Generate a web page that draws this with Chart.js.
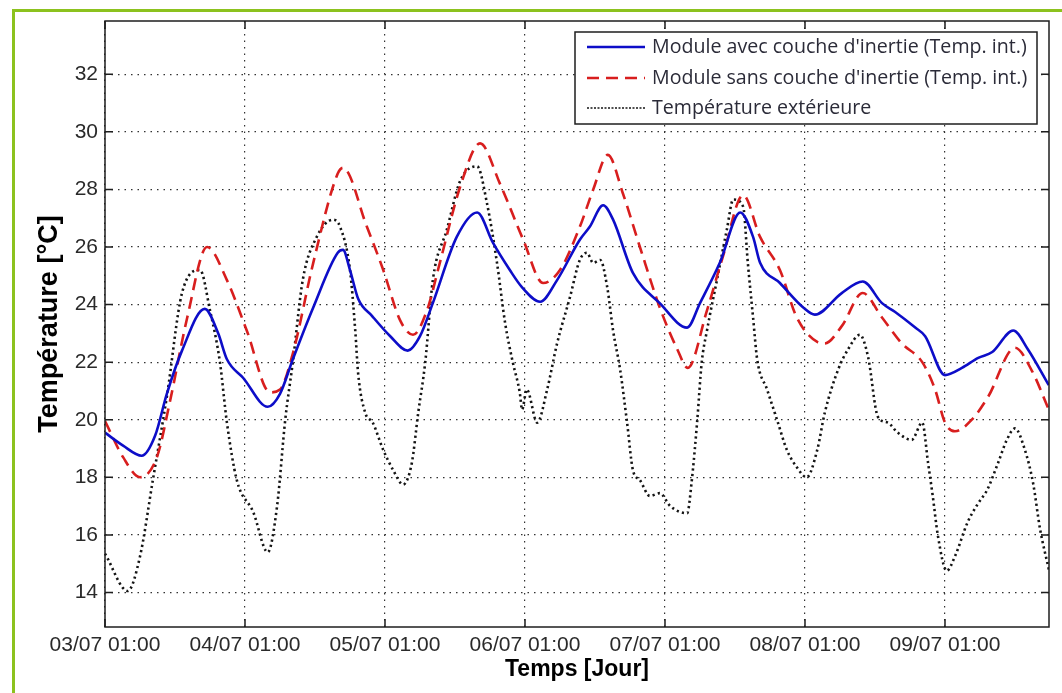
<!DOCTYPE html>
<html>
<head>
<meta charset="utf-8">
<script src="https://cdn.jsdelivr.net/npm/chart.js@4.4.0/dist/chart.umd.min.js"></script>
<style>
  html, body { margin: 0; padding: 0; background: #fff; }
  #wrap { width: 1062px; height: 693px; }
</style>
</head>
<body>
<div id="wrap"><canvas id="myChart" width="1062" height="693"></canvas></div>
<script>
// time axis in hours since 03/07 01:00
var tickLabels = ['03/07 01:00', '04/07 01:00', '05/07 01:00', '06/07 01:00', '07/07 01:00', '08/07 01:00', '09/07 01:00'];
var yTicks = [14, 16, 18, 20, 22, 24, 26, 28, 30, 32];

var hoursAvec = [0, 3.1, 6.3, 8.6, 10.6, 13.2, 17.1, 19.4, 20.9, 23.7, 27.9, 30.0, 32.2, 35.7, 39.9, 40.8, 42.0, 43.4, 45.8, 48.9,
  51.9, 54.0, 56.2, 60.3, 63.8, 66.5, 69.4, 71.5, 74.6, 77.5, 81.4, 83.1, 85.4, 87.1, 90.5, 95.1, 99.8, 102.0, 105.4, 108.9,
  111.1, 112.3, 115.7, 119.7, 121.7, 126.3, 129.9, 133.2, 135.4, 138.9, 140.6, 144.0, 146.9, 149.7, 152.1, 155.7, 158.2, 161.8];
var tempAvec = [19.55, 19.1, 18.75, 19.45, 20.9, 22.4, 23.85, 23.0, 22.1, 21.45, 20.45, 20.9, 22.1, 23.9, 25.8, 25.9, 25.2, 24.2, 23.6, 22.9,
  22.4, 22.9, 24.05, 26.35, 27.2, 26.15, 25.2, 24.6, 24.1, 24.85, 26.25, 26.7, 27.45, 26.95, 25.1, 24.05, 23.2, 24.05, 25.45, 27.2,
  26.35, 25.45, 24.75, 23.9, 23.65, 24.4, 24.8, 24.05, 23.75, 23.2, 22.9, 21.55, 21.8, 22.15, 22.35, 23.1, 22.45, 21.2];

var hoursSans = [0, 3.1, 6.0, 8.9, 11.1, 14.1, 17.5, 20.9, 24.3, 28.3, 30.0, 32.2, 35.7, 39.9, 40.8, 44.9, 47.7, 50.6, 52.8, 55.2,
  57.4, 60.9, 64.3, 67.7, 71.7, 75.1, 78.0, 81.4, 83.7, 86.2, 88.8, 91.7, 95.1, 98.1, 99.9, 103.2, 105.9, 109.4, 112.3, 115.7,
  118.6, 122.1, 123.4, 126.3, 129.9, 133.2, 136.6, 140.1, 142.3, 144.0, 145.7, 148.6, 151.4, 156.0, 158.9, 161.8];
var tempSans = [19.95, 18.7, 18.0, 18.7, 20.6, 23.55, 26.0, 24.85, 23.1, 20.95, 21.05, 22.3, 25.45, 28.55, 28.75, 26.7, 25.2, 23.45, 22.95, 23.8,
  25.45, 28.1, 29.6, 28.2, 26.25, 24.75, 25.2, 26.7, 28.0, 29.2, 27.85, 26.0, 23.9, 22.45, 21.8, 23.8, 25.65, 27.8, 26.35, 25.2,
  23.55, 22.7, 22.65, 23.25, 24.4, 23.55, 22.65, 22.0, 21.05, 19.9, 19.6, 20.0, 20.8, 22.5, 21.7, 20.35];

var hoursExt = [0, 3.9, 6.0, 8.2, 10.6, 13.2, 16.3, 18.0, 19.7, 20.9, 22.6, 25.4, 27.9, 29.5, 30.9, 32.2, 33.9, 36.3, 39.1, 40.3,
  42.0, 42.9, 43.4, 44.6, 45.9, 47.7, 49.4, 51.1, 52.6, 53.7, 54.9, 56.2, 58.6, 60.9, 63.8, 65.5, 67.2, 68.6, 69.9, 71.1,
  71.5, 72.3, 74.1, 75.8, 77.5, 79.7, 81.4, 82.6, 83.7, 84.9, 86.1, 87.1, 88.3, 89.5, 90.5, 91.7, 93.4, 95.1, 96.9, 99.8,
  100.6, 101.5, 102.3, 103.2, 104.9, 106.6, 107.7, 109.4, 110.2, 111.1, 111.8, 113.5, 115.2, 116.9, 118.6, 120.3, 122.1, 123.4, 125.7, 127.4,
  129.4, 130.8, 132.5, 134.2, 135.9, 138.3, 140.1, 141.1, 141.9, 142.8, 144.3, 145.7, 147.9, 149.7, 151.2, 153.1, 154.6, 156.0, 157.7, 159.1,
  160.3, 161.8];
var tempExt = [15.35, 14.05, 15.25, 17.9, 20.8, 24.4, 25.2, 23.8, 22.0, 19.9, 17.9, 16.8, 15.4, 17.0, 20.0, 22.0, 24.85, 26.35, 26.95, 26.7,
  25.2, 23.1, 21.6, 20.25, 19.9, 18.95, 18.25, 17.75, 18.5, 20.25, 22.0, 24.85, 26.6, 28.3, 28.8, 27.5, 25.45, 23.35, 22.0, 20.95,
  20.35, 21.05, 19.9, 21.05, 22.65, 24.25, 25.55, 25.8, 25.45, 25.55, 24.6, 23.1, 21.75, 19.9, 18.25, 17.9, 17.35, 17.45, 17.0, 16.75,
  17.9, 19.9, 22.0, 23.1, 24.85, 26.6, 27.65, 27.4, 25.45, 23.55, 22.1, 21.05, 20.0, 18.95, 18.35, 18.0, 18.95, 20.25, 21.75, 22.45,
  22.95, 22.2, 20.1, 19.9, 19.55, 19.3, 19.9, 18.5, 17.35, 15.95, 14.75, 15.25, 16.45, 17.1, 17.55, 18.5, 19.3, 19.7, 18.95, 17.8,
  16.2, 14.8];

function toPoints(hours, temps) {
    return hours.map(function (h, i) { return { x: h, y: temps[i] }; });
}

var frameColor = '#1e1e1e';

// white background, green frame of the figure
var backgroundPlugin = {
    id: 'background',
    beforeDraw: function (chart) {
        var ctx = chart.ctx;
        ctx.save();
        ctx.fillStyle = '#ffffff';
        ctx.fillRect(0, 0, chart.width, chart.height);
        ctx.strokeStyle = '#8cc21e';
        ctx.lineWidth = 3;
        ctx.beginPath();
        ctx.moveTo(13.5, chart.height);
        ctx.lineTo(13.5, 10.5);
        ctx.lineTo(chart.width, 10.5);
        ctx.stroke();
        ctx.restore();
    }
};

// box around the plot + inward tick marks (matlab style)
var framePlugin = {
    id: 'frame',
    afterDatasetsDraw: function (chart) {
        var ctx = chart.ctx, a = chart.chartArea;
        var xs = chart.scales.x, ys = chart.scales.y;
        ctx.save();
        ctx.strokeStyle = frameColor;
        ctx.lineWidth = 1.5;
        ctx.strokeRect(a.left, a.top, a.right - a.left, a.bottom - a.top);
        ctx.beginPath();
        xs.ticks.forEach(function (t) {
            var px = xs.getPixelForValue(t.value);
            ctx.moveTo(px, a.bottom); ctx.lineTo(px, a.bottom - 8);
            ctx.moveTo(px, a.top); ctx.lineTo(px, a.top + 8);
        });
        ys.ticks.forEach(function (t) {
            var py = ys.getPixelForValue(t.value);
            ctx.moveTo(a.left, py); ctx.lineTo(a.left + 8, py);
            ctx.moveTo(a.right, py); ctx.lineTo(a.right - 8, py);
        });
        ctx.stroke();
        ctx.restore();
    }
};

// legend in a box at top right
var legendBoxPlugin = {
    id: 'legendBox',
    afterDraw: function (chart) {
        var ctx = chart.ctx;
        var box = { x: 575, y: 32, w: 462, h: 92 };
        var rows = [47, 78, 108];
        ctx.save();
        ctx.fillStyle = '#ffffff';
        ctx.fillRect(box.x, box.y, box.w, box.h);
        ctx.strokeStyle = frameColor;
        ctx.lineWidth = 1.5;
        ctx.strokeRect(box.x, box.y, box.w, box.h);

        var base = 20;
        ctx.font = base + 'px "Open Sans"';
        var w = ctx.measureText(chart.data.datasets[0].label).width;
        var size = base * 375 / w;
        ctx.font = size + 'px "Open Sans"';
        ctx.textBaseline = 'middle';
        ctx.textAlign = 'left';
        chart.data.datasets.forEach(function (ds, i) {
            var y = rows[i];
            ctx.strokeStyle = ds.borderColor;
            ctx.lineWidth = i === 2 ? 1.3 : ds.borderWidth;
            ctx.setLineDash(i === 2 ? [2, 1.5] : (ds.borderDash || []));
            ctx.beginPath();
            ctx.moveTo(587, y);
            ctx.lineTo(645, y);
            ctx.stroke();
            ctx.setLineDash([]);
            ctx.fillStyle = '#2b2b38';
            ctx.fillText(ds.label, 652, y);
        });
        ctx.restore();
    }
};

var ctx = document.getElementById('myChart').getContext('2d');
var myChart = new Chart(ctx, {
    type: 'line',
    data: {
        datasets: [{
            label: "Module avec couche d'inertie (Temp. int.)",
            data: toPoints(hoursAvec, tempAvec),
            borderColor: '#0d0dc8',
            borderWidth: 2.6,
            pointRadius: 0,
            cubicInterpolationMode: 'monotone'
        }, {
            label: "Module sans couche d'inertie (Temp. int.)",
            data: toPoints(hoursSans, tempSans),
            borderColor: '#d81e1e',
            borderWidth: 2.6,
            borderDash: [12, 7],
            pointRadius: 0,
            cubicInterpolationMode: 'monotone'
        }, {
            label: 'Température extérieure',
            data: toPoints(hoursExt, tempExt),
            borderColor: '#141414',
            borderWidth: 2.6,
            borderDash: [2.2, 3.2],
            pointRadius: 0,
            cubicInterpolationMode: 'monotone'
        }]
    },
    options: {
        responsive: false,
        animation: false,
        events: [],
        layout: { padding: { left: 0, top: 21, right: 13, bottom: 0 } },
        plugins: {
            legend: { display: false },
            tooltip: { enabled: false }
        },
        scales: {
            x: {
                type: 'linear',
                min: 0,
                max: 161.83,
                afterBuildTicks: function (axis) {
                    axis.ticks = tickLabels.map(function (l, i) { return { value: i * 24 }; });
                },
                afterFit: function (axis) { axis.height = 66; },
                ticks: {
                    maxRotation: 0,
                    autoSkip: false,
                    padding: 6,
                    color: '#2a2a2a',
                    font: { family: 'Liberation Sans', size: 21 },
                    callback: function (v) { return tickLabels[Math.round(v / 24)]; }
                },
                grid: { color: '#333333', lineWidth: 1.2, drawTicks: false },
                border: { display: false, dash: [1.5, 5] },
                title: {
                    display: true,
                    text: 'Temps [Jour]',
                    color: '#000',
                    font: { family: 'Liberation Sans', size: 23, weight: 'bold' },
                    padding: { top: 0, bottom: 10 }
                }
            },
            y: {
                min: 12.8,
                max: 33.85,
                afterBuildTicks: function (axis) {
                    axis.ticks = yTicks.map(function (v) { return { value: v }; });
                },
                afterFit: function (axis) { axis.width = 105; },
                ticks: {
                    padding: 7,
                    color: '#2a2a2a',
                    font: { family: 'Liberation Sans', size: 21 }
                },
                grid: { color: '#333333', lineWidth: 1.2, drawTicks: false },
                border: { display: false, dash: [1.5, 5] },
                title: {
                    display: true,
                    text: 'Température [°C]',
                    color: '#000',
                    font: { family: 'Liberation Sans', size: 27, weight: 'bold' },
                    padding: { top: 33, bottom: 0 }
                }
            }
        }
    },
    plugins: [backgroundPlugin, framePlugin, legendBoxPlugin]
});
</script>
</body>
</html>
